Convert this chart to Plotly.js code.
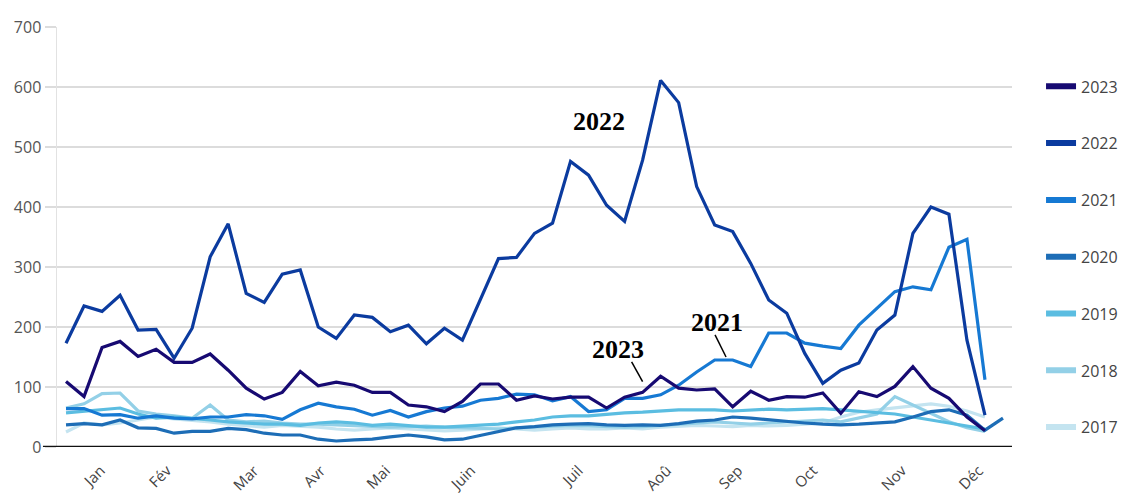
<!DOCTYPE html>
<html>
<head>
<meta charset="utf-8">
<script src="https://cdn.plot.ly/plotly-3.0.1.min.js"></script>
<style>
html,body{margin:0;padding:0;background:#fff;}
#chart{width:1131px;height:498px;}
</style>
</head>
<body>
<div id="chart"></div>
<script>
// Week index (1..53) for each weekly value
const years = ["2023","2022","2021","2020","2019","2018","2017"];

const v2023 = [109,84,166,176,151,163,141,141,155,128,98,80,91,126,102,108,103,91,91,70,67,59,76,105,105,78,85,80,83,83,65,83,91,118,98,95,97,67,93,78,84,83,90,56,92,84,101,134,98,81,50,27];
const v2022 = [173,235,226,253,195,196,148,198,317,372,256,241,288,295,200,181,220,216,192,203,172,198,178,245,314,316,356,373,476,453,403,376,478,611,574,434,370,359,306,245,223,156,106,128,140,195,220,356,400,388,178,53];
const v2021 = [64,64,53,54,48,52,48,47,50,50,54,52,46,62,73,67,63,53,61,50,59,65,68,78,81,88,87,77,84,59,62,81,81,87,103,125,145,145,134,190,190,173,168,164,203,231,259,267,262,333,346,112];
const v2020 = [37,39,37,45,32,31,23,26,26,31,29,23,20,20,13,10,12,13,17,20,17,12,13,19,26,32,34,37,38,39,37,36,37,36,39,43,45,50,48,45,42,40,38,37,38,40,42,50,59,62,53,28,48];
const v2019 = [57,60,62,65,55,48,50,48,45,42,40,38,38,36,40,42,40,36,38,35,33,33,35,36,38,42,45,50,52,52,55,57,58,60,62,62,62,60,62,63,62,63,64,62,60,58,55,50,45,40,35,30];
const v2018 = [65,72,89,90,60,55,52,48,70,45,42,43,40,38,38,37,35,35,33,34,35,33,32,30,30,32,33,35,36,35,34,33,34,36,38,40,42,40,38,40,42,44,45,42,48,55,84,70,55,42,32,26];
const v2017 = [25,40,37,40,45,50,47,45,42,38,35,33,36,35,33,30,28,30,32,30,28,27,28,30,32,30,28,30,32,30,30,32,30,33,35,36,35,34,36,35,36,38,40,50,58,62,65,68,72,68,60,50];

const seriesValues = {"2023":v2023,"2022":v2022,"2021":v2021,"2020":v2020,"2019":v2019,"2018":v2018,"2017":v2017};
const colors = {"2023":"#170a72","2022":"#0b3b9f","2021":"#1679d3","2020":"#1d6db6","2019":"#5bbde1","2018":"#93d0e7","2017":"#c4e4f0"};

const monthLabels = ["Jan","Fév","Mar","Avr","Mai","Juin","Juil","Aoû","Sep","Oct","Nov","Déc"];
const monthTickWeeks = [2.93,6.6,11.45,15.15,18.75,23.48,29.45,34.35,38.3,42.45,47.4,51.65];
const yTicks = [0,100,200,300,400,500,600,700];

const traces = [];
const drawOrder = ["2017","2018","2019","2020","2021","2022","2023"];
drawOrder.forEach(yr => {
  const vals = seriesValues[yr];
  traces.push({
    type:"scatter", mode:"lines",
    x: vals.map((_,i)=>i+1), y: vals,
    line:{color:colors[yr], width:3.2},
    showlegend:false, hoverinfo:"skip"
  });
});
years.forEach(yr => {
  traces.push({
    type:"scatter", mode:"lines", x:[null], y:[null],
    name:yr, legendgroup:yr,
    line:{color:colors[yr], width:6},
    showlegend:true
  });
});

const annFont = {family:"Liberation Serif, Times New Roman, serif", size:26, color:"#000"};
const layout = {
  width:1131, height:498,
  margin:{l:57, r:119, t:27, b:51, autoexpand:false},
  paper_bgcolor:"#fff", plot_bgcolor:"#fff",
  font:{family:"Open Sans, sans-serif", color:"#555"},
  showlegend:true,
  legend:{x:1.0304, xanchor:"left", y:0.899, yanchor:"top", tracegroupgap:33,
          font:{size:16, color:"#444"}, bgcolor:"rgba(0,0,0,0)"},
  xaxis:{range:[0.5,53.5], tickmode:"array", tickvals:monthTickWeeks, ticktext:monthLabels,
         tickangle:-45, showgrid:false, zeroline:false, showline:false,
         ticks:"outside", ticklen:8, tickcolor:"rgba(0,0,0,0)",
         tickfont:{size:15, color:"#444"}},
  yaxis:{range:[0,700], tickmode:"array", tickvals:yTicks, showgrid:true, gridcolor:"#dcdcdc",
         gridwidth:1.5, zeroline:false, showline:true, linecolor:"#e2e2e2", linewidth:1.5,
         ticks:"outside", ticklen:11, tickcolor:"#dcdcdc", tickwidth:1.5,
         tickfont:{size:16, color:"#555"}},
  shapes:[
    {type:"line", xref:"paper", yref:"y", x0:-0.0147, x1:1, y0:0, y1:0, line:{color:"#111", width:2.5}},
    {type:"line", xref:"x", yref:"y", x0:32.39, y0:142, x1:33.0, y1:109, line:{color:"#000", width:1.5}},
    {type:"line", xref:"x", yref:"y", x0:37.02, y0:187, x1:37.63, y1:150, line:{color:"#000", width:1.5}}
  ],
  annotations:[
    {x:30.56, y:541.7, xref:"x", yref:"y", text:"<b>2022</b>", showarrow:false, font:annFont},
    {x:31.63, y:163, xref:"x", yref:"y", text:"<b>2023</b>", showarrow:false, font:annFont},
    {x:37.13, y:208, xref:"x", yref:"y", text:"<b>2021</b>", showarrow:false, font:annFont}
  ]
};

Plotly.newPlot("chart", traces, layout, {staticPlot:true, displayModeBar:false});
</script>
</body>
</html>
